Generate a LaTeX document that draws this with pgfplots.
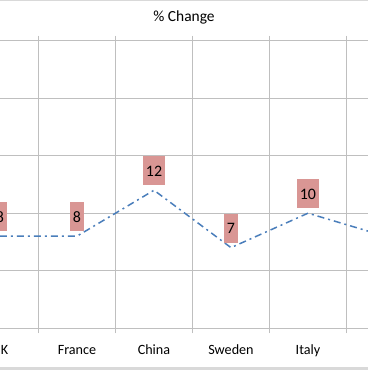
\documentclass[border=0pt]{standalone}
\usepackage{pgfplots}
\pgfplotsset{compat=1.18}
\usepackage{fontspec}
\setmainfont{Carlito}
\definecolor{lineblue}{RGB}{74,126,187}
\definecolor{labelred}{RGB}{217,150,148}
\definecolor{gridgray}{RGB}{191,191,191}
\definecolor{bordergray}{RGB}{217,217,217}
\begin{document}
\begin{tikzpicture}
\useasboundingbox (0,0) rectangle (368bp,370bp);
\clip (0,0) rectangle (368bp,370bp);
\fill[white] (0,0) rectangle (368bp,370bp);
\begin{axis}[
  at={(-38.5bp,42bp)}, anchor=south west,
  scale only axis, width=462bp, height=287bp,
  xmin=-0.5, xmax=5.5, ymin=0, ymax=25,
  /pgf/number format/assume math mode=true,
  xtick={0,1,2,3,4,5},
  xticklabels={UK,France,China,Sweden,Italy,Spain},
  minor xtick={-0.5,0.5,1.5,2.5,3.5,4.5,5.5},
  ytick={0,5,10,15,20,25}, yticklabels={},
  major tick length=0pt, minor tick length=5bp, tick align=outside,
  xminorgrids, ymajorgrids,
  minor grid style={gridgray, line width=1.3bp},
  major grid style={gridgray, line width=1bp},
  minor tick style={gridgray, line width=1.3bp},
  major tick style={draw=none},
  axis line style={gridgray, line width=1bp},
  xticklabel style={font=\fontsize{14.2}{16}\selectfont, anchor=base, yshift=-26bp},
  clip=true,
  nodes near coords={\pgfmathprintnumber[assume math mode=true]{\pgfplotspointmeta}},
  every node near coord/.append style={anchor=south, yshift=4bp, fill=labelred, text=black,
    font=\fontsize{16}{19}\selectfont, inner xsep=3.2bp, inner ysep=9bp, text height=11bp, text depth=0pt},
]
\addplot[color=lineblue, line width=1.5bp, dash pattern=on 7bp off 4bp on 2bp off 4bp, mark=none]
  coordinates {(0,8) (1,8) (2,12) (3,7) (4,10) (5,8)};
\end{axis}
\node[font=\fontsize{15.5}{18}\selectfont] at (184bp,353bp) {\% Change};
\draw[bordergray, line width=2bp] (0,369.5bp) -- (368bp,369.5bp);
\draw[bordergray, line width=2bp] (0,1.5bp) -- (368bp,1.5bp);
\end{tikzpicture}
\end{document}
